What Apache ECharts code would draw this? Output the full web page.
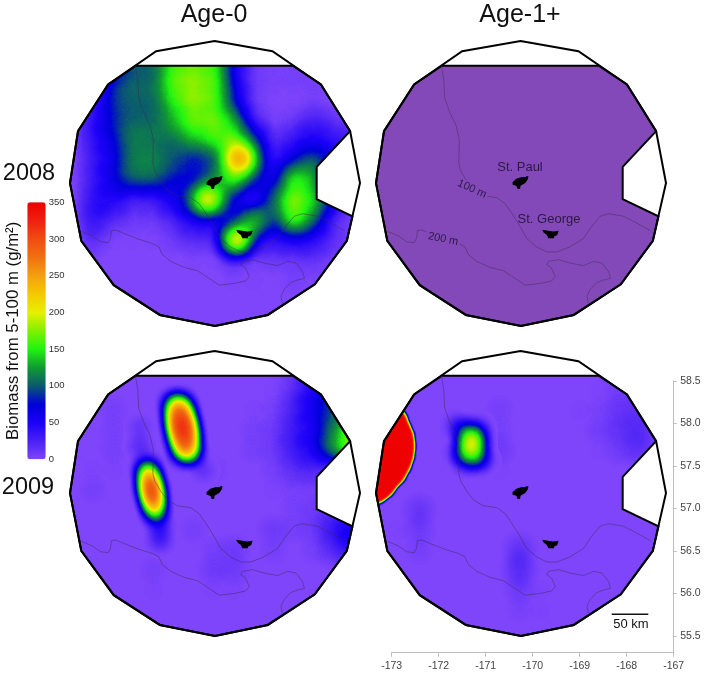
<!DOCTYPE html>
<html><head><meta charset="utf-8">
<style>html,body{margin:0;padding:0;background:#fff}#c{width:704px;height:674px}</style>
<script src="https://cdn.jsdelivr.net/npm/echarts@6/dist/echarts.min.js"></script>
</head><body><div id="c"></div>
<script>
// ---------- survey outline, lon/lat ----------
const surveyDisc = [[-170.26,58.85],[-169.03,58.73],[-168.00,58.34],[-167.38,57.79],[-167.17,57.18],[-167.45,56.50],[-168.13,55.99],[-169.13,55.63],[-170.25,55.50],[-171.42,55.63],[-172.40,55.98],[-173.09,56.50],[-173.33,57.18],[-173.16,57.79],[-172.52,58.34],[-171.50,58.73],[-170.26,58.85]];
const surveyWater = [[-171.93,58.56],[-168.60,58.56],[-168.00,58.34],[-167.38,57.79],[-168.09,57.37],[-168.09,56.99],[-167.33,56.79],[-167.45,56.50],[-168.13,55.99],[-169.13,55.63],[-170.25,55.50],[-171.42,55.63],[-172.40,55.98],[-173.09,56.50],[-173.33,57.18],[-173.16,57.79],[-172.52,58.34],[-171.93,58.56]];
const stPaul = [[-170.43,57.19],[-170.35,57.23],[-170.23,57.25],[-170.16,57.25],[-170.13,57.26],[-170.09,57.26],[-170.11,57.22],[-170.16,57.18],[-170.26,57.15],[-170.27,57.11],[-170.32,57.11],[-170.35,57.15],[-170.43,57.16],[-170.43,57.19]];
const stGeorge = [[-169.80,56.63],[-169.67,56.62],[-169.56,56.61],[-169.45,56.62],[-169.48,56.57],[-169.55,56.55],[-169.55,56.53],[-169.67,56.53],[-169.70,56.57],[-169.77,56.60],[-169.80,56.63]];
const isobath100 = [[-171.94,58.56],[-171.89,58.39],[-171.87,58.18],[-171.77,58.02],[-171.63,57.86],[-171.56,57.69],[-171.57,57.41],[-171.53,57.32],[-171.40,57.20],[-171.26,57.10],[-171.05,57.03],[-170.77,57.01],[-170.59,56.94],[-170.45,56.83],[-170.27,56.67],[-170.13,56.53],[-169.92,56.43],[-169.70,56.37],[-169.49,56.37],[-169.21,56.43],[-168.92,56.53],[-168.75,56.67],[-168.57,56.79],[-168.39,56.82],[-168.07,56.79],[-167.79,56.71],[-167.50,56.62]];
const isobath200 = [[-173.07,56.61],[-172.86,56.56],[-172.68,56.49],[-172.52,56.48],[-172.47,56.53],[-172.45,56.62],[-172.36,56.63],[-172.15,56.58],[-171.87,56.52],[-171.58,56.47],[-171.44,56.43],[-171.37,56.34],[-171.19,56.26],[-170.91,56.19],[-170.62,56.15],[-170.38,56.06],[-170.16,55.98],[-169.84,56.00],[-169.60,56.03],[-169.52,56.08],[-169.60,56.18],[-169.70,56.22],[-169.67,56.26],[-169.45,56.28],[-169.21,56.24],[-168.92,56.21],[-168.71,56.26],[-168.53,56.24],[-168.39,56.14],[-168.35,56.06],[-168.50,56.04],[-168.64,56.01],[-168.78,55.93],[-168.85,55.85],[-168.82,55.77]];
const maskOuter = [[-173.33,55.50],[-167.17,55.50],[-167.17,58.85],[-173.33,58.85],[-173.33,55.50]];

// ---------- biomass (g/m2) ----------
const sampleLons = [-173.26,-172.84,-172.41,-171.99,-171.56,-171.13,-170.71,-170.28,-169.86,-169.43,-169.01,-168.58,-168.16,-167.73,-167.30];
const sampleLats = [58.63,58.39,58.16,57.92,57.69,57.45,57.22,56.98,56.75,56.51,56.28,56.04,55.81,55.57];
const age0y2008 = [
 [0,0,50,115,115,190,205,195,60,15,10,10,5,0,0],
 [0,10,85,115,115,195,210,195,70,15,10,10,10,0,0],
 [0,30,100,115,115,175,215,195,85,15,5,5,10,5,0],
 [5,50,90,115,115,150,200,205,150,30,10,15,35,20,0],
 [10,45,80,130,125,115,150,180,200,110,20,45,60,45,35],
 [5,40,70,130,135,110,80,100,170,130,40,80,120,70,0],
 [5,40,75,115,115,80,75,125,190,95,55,190,150,0,0],
 [5,50,60,30,35,70,100,160,70,25,125,215,165,70,0],
 [5,50,25,15,15,30,65,60,70,140,85,200,120,25,10],
 [5,25,5,5,5,15,25,25,140,55,45,60,50,25,10],
 [0,5,0,0,0,0,5,5,25,10,15,15,20,10,0],
 [0,0,0,0,0,0,0,0,5,5,0,10,5,0,0],
 [0,0,0,0,0,0,0,0,0,0,0,0,0,0,0],
 [0,0,0,0,0,0,0,0,0,0,0,0,0,0,0]];
const age0y2008Peaks = [[-169.72,57.47,270],[-170.44,56.99,190],[-169.77,56.51,220],[-169.43,56.72,60]];
const age0y2009 = [
 [0,0,0,0,0,0,0,0,0,0,5,15,50,60,0],
 [0,0,0,0,0,0,0,0,0,0,5,25,60,90,0],
 [0,0,10,0,0,0,0,0,0,5,10,35,70,110,130],
 [0,0,10,0,0,0,0,0,0,10,15,40,60,130,230],
 [0,0,10,0,0,0,0,0,0,10,15,40,60,140,230],
 [0,5,5,0,0,0,0,10,0,0,10,25,30,0,0],
 [0,10,0,0,0,0,0,0,0,0,5,10,10,0,0],
 [0,0,0,0,0,0,0,0,0,0,0,10,15,20,0],
 [0,0,0,0,0,0,10,0,0,0,15,10,15,50,80],
 [0,0,0,0,0,0,0,10,15,0,10,0,10,30,50],
 [0,0,0,0,10,0,0,15,15,0,0,0,0,0,0],
 [0,0,0,0,5,0,0,5,5,0,0,0,0,0,0],
 [0,0,0,0,0,0,0,0,0,0,0,0,0,0,0],
 [0,0,0,0,0,0,0,0,0,0,0,0,0,0,0]];
const northPatchLons = [-171.05,-171.03,-171.01,-170.99,-170.98,-170.96,-170.94,-170.92,-170.90,-170.89,-170.87,-170.85,-170.83];
const northPatchLats = [58.26,58.21,58.16,58.10,58.05,58.00,57.94,57.89,57.83,57.78,57.72,57.67,57.62];
const northPatchValues = [80,100,120,140,165,185,190,185,165,140,120,100,80];
const westPatchLons = [-171.695,-171.676,-171.657,-171.638,-171.619,-171.60,-171.581,-171.562,-171.543,-171.524,-171.505];
const westPatchLats = [57.49,57.43,57.38,57.32,57.27,57.21,57.15,57.10,57.04,56.99,56.93];
const westPatchValues = [100,125,155,190,240,270,240,190,155,125,100];
const patchHalo = [[-171.84,57.73,32],[-171.42,56.79,50],[-171.42,56.63,45],[-170.50,57.45,25],[-171.85,57.95,22]];
const age1y2009 = [
 [0,0,0,0,0,0,0,0,0,0,0,3,8,8,0],
 [0,0,0,0,0,0,0,0,0,0,0,5,12,12,0],
 [0,0,0,0,0,0,10,0,0,0,5,8,20,20,0],
 [0,0,0,0,0,0,10,0,0,0,0,12,22,30,0],
 [0,0,0,0,0,0,15,0,0,0,0,5,15,25,0],
 [0,0,0,0,0,0,5,0,0,0,0,0,0,0,0],
 [0,0,0,0,0,0,0,0,0,0,0,0,0,0,0],
 [0,0,20,0,0,0,0,0,0,0,0,0,0,0,0],
 [0,5,15,0,0,0,0,0,0,0,0,0,0,0,0],
 [0,0,10,0,0,0,0,25,0,0,0,0,0,0,0],
 [0,0,0,0,0,0,0,30,0,0,0,0,0,0,0],
 [0,0,0,0,0,0,0,15,5,0,0,0,0,0,0],
 [0,0,0,0,0,0,0,8,5,0,0,0,0,0,0],
 [0,0,0,0,0,0,0,0,0,0,0,0,0,0,0]];
const age1y2009Patch = [[-171.42,57.92,75],[-171.18,57.92,75],[-171.42,57.83,100],[-171.18,57.83,100],[-171.42,57.74,100],[-171.18,57.74,100],[-171.30,57.74,60],[-171.30,57.83,40],[-171.42,57.65,100],[-171.18,57.65,100],[-171.42,57.56,75],[-171.18,57.56,75],[-171.62,57.97,45],[-171.62,57.65,30],[-171.02,57.56,25]];
const age1y2009Edge = [[-172.96,58.02,350],[-172.89,57.92,350],[-172.82,57.83,350],[-172.80,57.73,350],[-172.82,57.63,350],[-172.88,57.53,350],[-172.98,57.43,350],[-173.11,57.36,350],[-173.21,57.28,350],[-173.35,57.22,350],[-173.11,57.81,350],[-173.11,57.65,350],[-173.18,57.49,350],[-173.32,57.41,350],[-173.04,57.92,350],[-173.30,57.65,350]];

// ---------- scale and tick labels ----------
const scaleColors = ['#7f45fb','#4a20f5','#1c00f8','#0000d8','#0a5a6e','#109a30','#20f410','#80f000','#e8f000','#f4c800','#f5a010','#f07010','#f04c10','#f02010','#ee0000'];
const lonTicks = [-173,-172,-171,-170,-169,-168,-167];
const latTicks = [55.5,56,56.5,57,57.5,58,58.5];
const yearLabels = ['2008','2009'];
const ageLabels = ['Age-0','Age-1+'];
const baseWater = '#7f45fb';
const emptyWater = '#8449b9';

function feature(name, rings){return {type:'Feature',properties:{name},geometry:{type:'Polygon',coordinates:rings}};}
echarts.registerMap('base',{type:'FeatureCollection',features:[feature('disc',[surveyDisc]),feature('water',[surveyWater])]});
echarts.registerMap('top',{type:'FeatureCollection',features:[
  feature('mask',[maskOuter,surveyWater]),
  feature('disc',[surveyDisc]),feature('water',[surveyWater]),
  feature('St. Paul',[stPaul]),feature('St. George',[stGeorge])]});

function flatten(grid, extra){
  const out=[];
  grid.forEach((row,r)=>row.forEach((v,c)=>{ if(v>0) out.push([sampleLons[c],sampleLats[r],v]); }));
  return out.concat(extra||[]);
}
const panels=[
 {x:70,y:41,water:baseWater},
 {x:376,y:41,water:emptyWater},
 {x:70,y:351,water:baseWater},
 {x:376,y:351,water:baseWater}];
const W=290,H=285;
const geos=[];
panels.forEach(p=>geos.push({map:'base',silent:true,roam:false,aspectScale:1,left:p.x,top:p.y,width:W,height:H,z:1,
  itemStyle:{areaColor:'#fff',borderWidth:0},
  regions:[{name:'water',itemStyle:{areaColor:p.water,borderWidth:0}}]}));
panels.forEach(p=>geos.push({map:'top',silent:true,roam:false,aspectScale:1,left:p.x,top:p.y,width:W,height:H,z:3,
  itemStyle:{areaColor:'rgba(0,0,0,0)',borderColor:'#000',borderWidth:2},
  regions:[{name:'mask',itemStyle:{areaColor:'#fff',borderWidth:0}},
    {name:'St. Paul',itemStyle:{areaColor:'#000',borderWidth:0}},
    {name:'St. George',itemStyle:{areaColor:'#000',borderWidth:0}}]}));

const lonShift = 0.09;
const northPatch = [];
northPatchValues.forEach((v,i)=>{
  northPatch.push([northPatchLons[i]-lonShift,northPatchLats[i],v]);
  northPatch.push([northPatchLons[i]+lonShift,northPatchLats[i],v]);
});
const westPatch = westPatchValues.map((v,i)=>[westPatchLons[i],westPatchLats[i],v]);

function heat(geoIndex,data,ps,bs){return {type:'heatmap',coordinateSystem:'geo',geoIndex,data,pointSize:ps,blurSize:bs,minOpacity:1,maxOpacity:1,silent:true,z:2};}
const series=[
 heat(0,flatten(age0y2008,age0y2008Peaks),12,18),
 heat(2,flatten(age0y2009),12,18),
 heat(2,northPatch.concat(westPatch,patchHalo),9,14),
 heat(3,flatten(age1y2009),12,18),
 heat(3,age1y2009Patch,9,14),
 heat(3,age1y2009Edge,14,3)];
const heatIdx=series.map((s,i)=>i);
[4,5,6,7].forEach(g=>series.push({type:'lines',coordinateSystem:'geo',geoIndex:g,polyline:true,silent:true,z:4,
  lineStyle:{color:'#3a2a50',width:0.7,opacity:0.65},
  data:[{coords:isobath100},{coords:isobath200}]}));

function txt(t,x,y,size,extra){return Object.assign({type:'text',x,y,z:20,silent:true,style:Object.assign({text:t,font:size+'px "Liberation Sans"',fill:'#111',align:'center',verticalAlign:'middle'},extra&&extra.style||{})},extra&&extra.el||{});}
const graphics=[
 txt(ageLabels[0],214,15,25),txt(ageLabels[1],520,15,25),
 txt(yearLabels[0],29,174,23.5),txt(yearLabels[1],28,488,23.5),
 txt('St. Paul',520,167,13,{style:{fill:'#2a1a45'}}),
 txt('St. George',549,219,13,{style:{fill:'#2a1a45'}}),
 txt('100 m',472,189,11,{style:{backgroundColor:emptyWater,fill:'#2a1a45',padding:[0,2]},el:{rotation:-0.42}}),
 txt('200 m',443,239,11,{style:{backgroundColor:emptyWater,fill:'#2a1a45',padding:[0,2]},el:{rotation:-0.2}}),
 {type:'line',z:20,silent:true,shape:{x1:611.7,y1:614.3,x2:648.3,y2:614.3},style:{stroke:'#111',lineWidth:1.6}},
 txt('50 km',631,624.5,13)
];

const chart=echarts.init(document.getElementById('c'),null,{renderer:'canvas'});
chart.setOption({
 animation:false,backgroundColor:'#fff',
 geo:geos,
 grid:[{left:391.7,top:381,width:282,height:271.7},{left:27.3,top:202.3,width:18.4,height:257}],
 xAxis:[
  {gridIndex:0,type:'value',min:-173,max:-167,interval:1,position:'bottom',splitLine:{show:false},
   axisLine:{lineStyle:{color:'#bdbdbd'}},axisTick:{length:4,lineStyle:{color:'#bdbdbd'}},
   axisLabel:{color:'#444',fontSize:10.5,margin:8,fontFamily:'Liberation Sans',formatter:v=>String(v),showMinLabel:true,showMaxLabel:true}},
  {gridIndex:1,type:'value',show:false}],
 yAxis:[
  {gridIndex:0,type:'value',min:55.304,max:58.5,position:'right',splitLine:{show:false},
   axisLine:{onZero:false,lineStyle:{color:'#bdbdbd'}},
   axisTick:{length:3,customValues:latTicks,lineStyle:{color:'#bdbdbd'}},
   axisLabel:{color:'#444',fontSize:10.5,margin:6.5,fontFamily:'Liberation Sans',customValues:latTicks,formatter:v=>v.toFixed(1)}},
  {gridIndex:1,type:'value',min:0,max:350,interval:50,position:'right',splitLine:{show:false},
   axisLine:{show:false},axisTick:{show:false},
   axisLabel:{color:'#333',fontSize:9.5,margin:3,fontFamily:'Liberation Sans',showMinLabel:true,showMaxLabel:true}},
  {gridIndex:1,type:'value',min:0,max:350,position:'left',splitLine:{show:false},
   axisLine:{show:false},axisTick:{show:false},axisLabel:{show:false},
   name:'Biomass from 5-100 m (g/m²)',nameLocation:'middle',nameRotate:90,nameGap:5,
   nameTextStyle:{color:'#111',fontSize:16.8,fontFamily:'Liberation Sans'}}],
 visualMap:{type:'continuous',min:0,max:350,left:27.3,top:202.3,itemWidth:18.4,itemHeight:257,padding:0,
  calculable:false,realtime:false,hoverLink:false,text:null,seriesIndex:heatIdx,inRange:{color:scaleColors},borderWidth:0},
 series,
 graphic:graphics
});
</script></body></html>
